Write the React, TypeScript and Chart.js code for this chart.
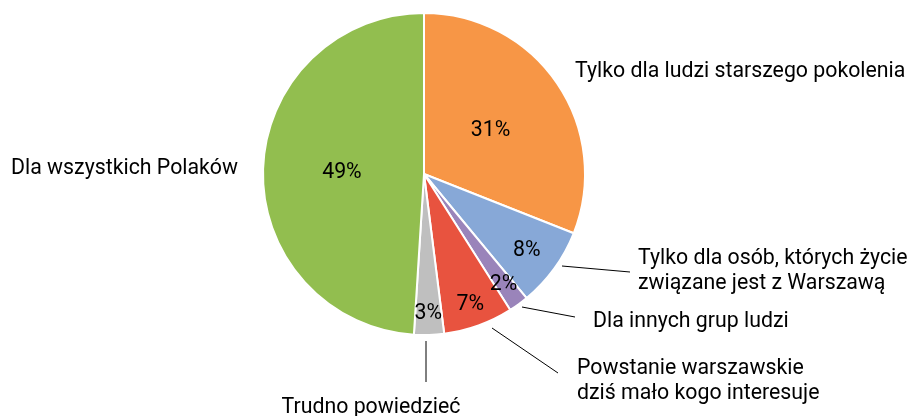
import React, { useEffect, useRef } from "react";
import { Chart, registerables } from "chart.js";

Chart.register(...registerables);

const categories = [
  "Tylko dla ludzi starszego pokolenia",
  "Tylko dla osób, których życie\nzwiązane jest z Warszawą",
  "Dla innych grup ludzi",
  "Powstanie warszawskie\ndziś mało kogo interesuje",
  "Trudno powiedzieć",
  "Dla wszystkich Polaków",
];
const values = [31, 8, 2, 7, 3, 49];
const percentLabels = ["31%", "8%", "2%", "7%", "3%", "49%"];
const colors = ["#F79646", "#87A8D7", "#9A84BA", "#E8533F", "#BFBFBF", "#92BE4F"];

// label layout relative to pie centre
const pctRadius = [0.5, 0.79, 0.84, 0.85, 0.86, 0.51];
const labelPos = [
  { x: 151, y: -104, align: "left" },
  { x: 214, y: 83, align: "left" },
  { x: 169, y: 146, align: "left" },
  { x: 153, y: 193, align: "left" },
  { x: -53, y: 232, align: "center" },
  { x: -186, y: -7, align: "right" },
];
const leaders: (number[] | null)[] = [
  null,
  [138, 92, 206, 98],
  [98, 133, 151, 143],
  [68, 154, 134, 199],
  [2, 167, 2, 208],
  null,
];

const FONT = "21.3px Roboto";
const LINE_H = 25.5;
const TEXT_DY = 1.5;

const labelPlugin = {
  id: "pieLabels",
  afterDraw(chart: any) {
    const ctx = chart.ctx;
    const meta = chart.getDatasetMeta(0);
    ctx.save();
    meta.data.forEach((arc: any, i: number) => {
      const { x: cx, y: cy, startAngle, endAngle, outerRadius } = arc.getProps(
        ["x", "y", "startAngle", "endAngle", "outerRadius"],
        true
      );
      const mid = (startAngle + endAngle) / 2;
      const r = outerRadius * pctRadius[i];
      ctx.font = FONT;
      ctx.fillStyle = "#000";
      ctx.textAlign = "center";
      ctx.textBaseline = "middle";
      ctx.fillText(percentLabels[i], cx + Math.cos(mid) * r, cy + Math.sin(mid) * r + TEXT_DY);

      const l = leaders[i];
      if (l) {
        ctx.beginPath();
        ctx.strokeStyle = "#000";
        ctx.lineWidth = 1;
        ctx.moveTo(cx + l[0], cy + l[1]);
        ctx.lineTo(cx + l[2], cy + l[3]);
        ctx.stroke();
      }
      const p = labelPos[i];
      ctx.textAlign = p.align;
      const lines = categories[i].split("\n");
      lines.forEach((ln, k) => {
        ctx.fillText(ln, cx + p.x, cy + p.y + k * LINE_H + TEXT_DY);
      });
    });
    ctx.restore();
  },
};

export default function App() {
  const ref = useRef<HTMLCanvasElement>(null);
  useEffect(() => {
    document.body.style.margin = "0";
    const chart = new Chart(ref.current!, {
      type: "pie",
      data: {
        labels: categories,
        datasets: [
          {
            data: values,
            backgroundColor: colors,
            borderColor: "#ffffff",
            borderWidth: 2,
          },
        ],
      },
      options: {
        animation: false,
        responsive: false,
        layout: { padding: { top: 12, bottom: 80, left: 224, right: 288 } },
        plugins: { legend: { display: false }, tooltip: { enabled: false } },
      },
      plugins: [labelPlugin],
    });
    return () => chart.destroy();
  }, []);
  return (
    <div style={{ width: 912, height: 416, position: "relative" }}>
      <canvas ref={ref} width={912} height={416} style={{ width: 912, height: 416 }} />
    </div>
  );
}
